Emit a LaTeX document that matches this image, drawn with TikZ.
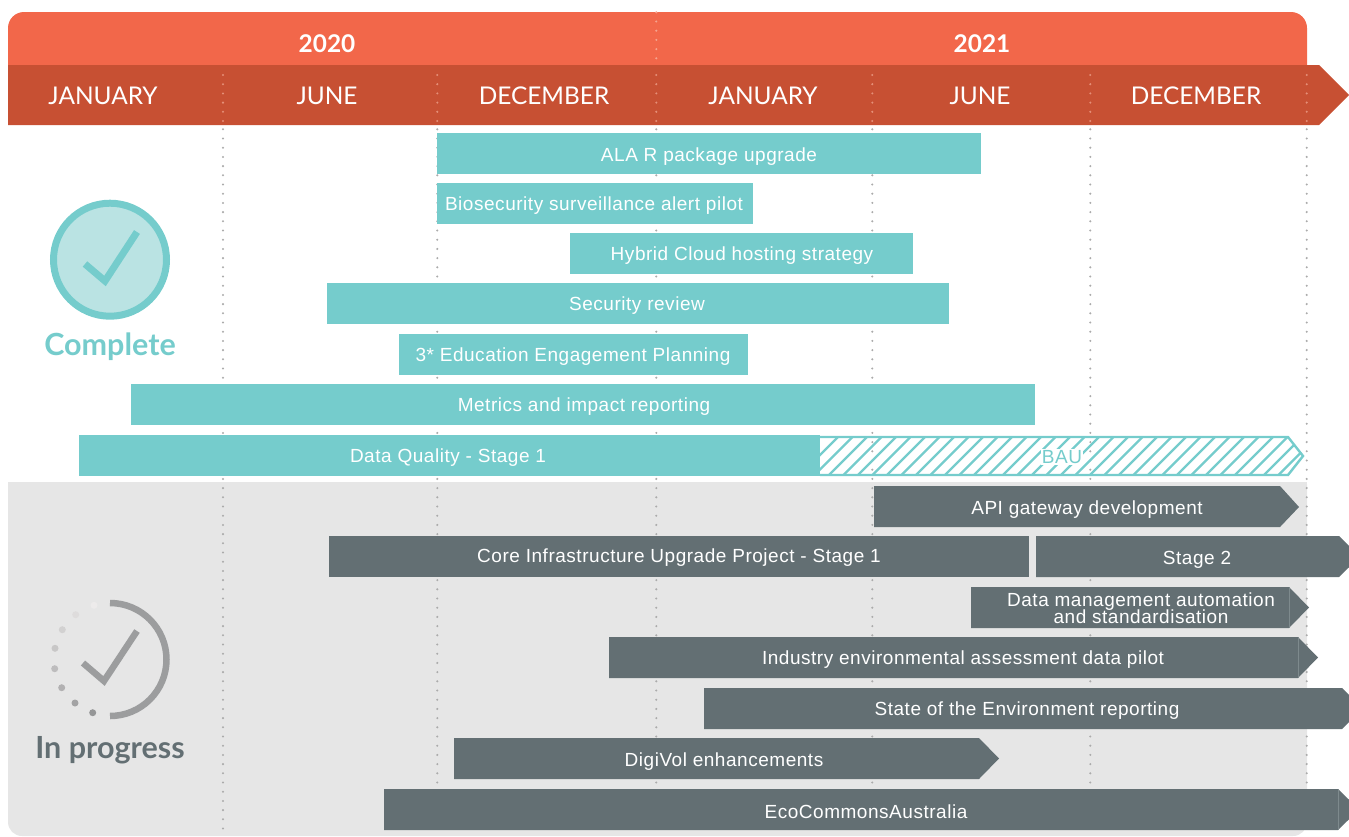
\documentclass[tikz,border=0pt]{standalone}
\usepackage{fontspec}
\setmainfont{Lato}
\newfontfamily\barfont[LetterSpace=2.8]{Liberation Sans}
\definecolor{orangeA}{HTML}{F2674A}
\definecolor{orangeB}{HTML}{C75033}
\definecolor{tealA}{HTML}{75CCCC}
\definecolor{tealB}{HTML}{BAE3E3}
\definecolor{slateA}{HTML}{636F73}
\definecolor{slateB}{HTML}{7E8A8D}
\definecolor{panelA}{HTML}{E6E6E6}
\definecolor{iconA}{HTML}{9C9D9E}
\definecolor{dotA}{HTML}{ABABAB}
\definecolor{dotB}{HTML}{E58F78}
\definecolor{dotC}{HTML}{F5A48F}
\tikzset{
  x=1pt,y=-1pt,
  bartext/.style={text=white,font=\fontsize{19}{19}\selectfont\barfont,inner sep=0pt,align=center,text height=14pt,text depth=2pt},
  monthtext/.style={text=white,font=\fontsize{24.4}{24}\selectfont,inner sep=0pt},
  yeartext/.style={text=white,font=\fontsize{24.4}{24}\selectfont\bfseries,inner sep=0pt},
  griddot/.style={line width=2.3pt,line cap=round,dash pattern=on 0pt off 9.2pt,draw=dotA},
  griddotb/.style={griddot,draw=dotB},
  griddotc/.style={griddot,draw=dotC},
  tealbar/.style={fill=tealA,draw=none},
  slatebar/.style={fill=slateA,draw=none},
  basemark/.style={draw=slateB,line width=0.4pt},
  iconline/.style={line width=7pt,miter limit=10},
}
\begin{document}
\begin{tikzpicture}
\useasboundingbox (0,0) rectangle (1349,836);
\clip (0,0) rectangle (1349,836);
% grey panel
\fill[panelA,rounded corners=14pt] (8,470) rectangle (1307,836);
\fill[white] (0,460) rectangle (1349,482);
% header
\fill[orangeA,rounded corners=16pt] (8,12) rectangle (1307,90);
\fill[orangeB] (8,65) -- (1319,65) -- (1349,95) -- (1319,125) -- (8,125) -- cycle;
% grid
\foreach \gx/\gend/\gn in {223/830/a,437.3/783/b,656.3/830/c,872.3/830/d,1090.3/830/e,1306.7/786/f}{
  \coordinate (gt\gn) at (\gx,75);
  \coordinate (gm\gn) at (\gx,129.3);
  \coordinate (gb\gn) at (\gx,\gend);
  \draw[griddotb] (gt\gn) -- (gm\gn);
  \draw[griddot] (gm\gn) -- (gb\gn);
}
\coordinate (gy) at (656.3,12.3);
\coordinate (gz) at (656.3,64);
\draw[griddotc] (gy) -- (gz);
% header text
\node[yeartext] (y20) at (327,44) {2020};
\node[yeartext] (y21) at (982,44) {2021};
\node[monthtext] (m1) at (103,96) {JANUARY};
\node[monthtext] (m2) at (327,96) {JUNE};
\node[monthtext] (m3) at (544,96) {DECEMBER};
\node[monthtext] (m4) at (763,96) {JANUARY};
\node[monthtext] (m5) at (980,96) {JUNE};
\node[monthtext] (m6) at (1196,96) {DECEMBER};
% complete bars
\fill[tealbar] (437,133) rectangle (981,174);
\node[bartext] (b1) at (709,155) {ALA R package upgrade};
\fill[tealbar] (437,183) rectangle (753,224);
\node[bartext] (b2) at (594,204) {Biosecurity surveillance alert pilot};
\fill[tealbar] (570,233) rectangle (913,274);
\node[bartext] (b3) at (742,254) {Hybrid Cloud hosting strategy};
\fill[tealbar] (327,283) rectangle (949,324);
\node[bartext] (b4) at (637,304) {Security review};
\fill[tealbar] (399,334) rectangle (748,375);
\node[bartext] (b5) at (573,355) {3* Education Engagement Planning};
\fill[tealbar] (131,384) rectangle (1035,425);
\node[bartext] (b6) at (584,405) {Metrics and impact reporting};
\fill[tealbar] (79,435) rectangle (820,476);
\node[bartext] (b7) at (448,456) {Data Quality - Stage 1};
% BAU
\begin{scope}
\clip (820,436) -- (1288,436) -- (1304,456) -- (1288,475) -- (820,475) -- cycle;
\foreach \hx in {0,14.5,...,530}{
  \draw[tealA,line width=2.2pt] (795+\hx,480) -- (845+\hx,430);
}
\end{scope}
\draw[tealA,line width=2.4pt] (820,437) -- (1288,437) -- (1303,456) -- (1288,475) -- (820,475);
\node[inner sep=1pt,fill=white,text=tealA,font=\fontsize{19}{19}\selectfont\barfont] (bau) at (1062,457) {BAU};
% in progress bars
\fill[slatebar] (874,486) -- (1280,486) -- (1299,507) -- (1280,527) -- (874,527) -- cycle;
\node[bartext] (c1) at (1087,508) {API gateway development};
\fill[slatebar] (329,536) rectangle (1029,577);
\node[bartext] (c2) at (679,556) {Core Infrastructure Upgrade Project - Stage 1};
\fill[slatebar] (1036,536) -- (1339,536) -- (1360,556.5) -- (1339,577) -- (1036,577) -- cycle;
\node[bartext] (c3) at (1197,558) {Stage 2};
\fill[slatebar] (971,587) -- (1289,587) -- (1309,607.5) -- (1289,628) -- (971,628) -- cycle;
\draw[basemark] (1289,587) -- (1289,628);
\node[bartext] (c4) at (1141,600) {Data management automation};
\node[bartext] (c5) at (1141,617) {and standardisation};
\fill[slatebar] (609,637) -- (1298,637) -- (1318,657.5) -- (1298,678) -- (609,678) -- cycle;
\draw[basemark] (1298,637) -- (1298,678);
\node[bartext] (c6) at (963,658) {Industry environmental assessment data pilot};
\fill[slatebar] (704,688) -- (1342,688) -- (1363,708.5) -- (1342,729) -- (704,729) -- cycle;
\node[bartext] (c7) at (1027,709) {State of the Environment reporting};
\fill[slatebar] (454,738) -- (979,738) -- (999,758.5) -- (979,779) -- (454,779) -- cycle;
\node[bartext] (c8) at (724,760) {DigiVol enhancements};
\fill[slatebar] (384,789) -- (1338,789) -- (1359,809.5) -- (1338,830) -- (384,830) -- cycle;
\draw[basemark] (1338,789) -- (1338,830);
\node[bartext] (c9) at (866,812) {EcoCommonsAustralia};
% Complete icon
\fill[tealB] (110,259.7) circle[radius=56.5];
\draw[tealA,line width=7pt] (110,259.7) circle[radius=56.5];
\draw[tealA,iconline] (85,264) -- (105,281) -- (137,232);
\node[text=tealA,font=\fontsize{30.5}{30}\selectfont\bfseries,inner sep=0pt] (lc) at (110,347) {Complete};
% In progress icon
\draw[iconA,line width=6.5pt] (110,603) arc[start angle=-90,end angle=90,radius=56.5];
\draw[iconA,iconline,line width=6.5pt] (83,663) -- (104,681) -- (137,631);
\foreach \dx/\dy/\dc in {94/605.3/EDEBEB,75.7/614.7/DEDCDC,62.3/629.7/D2D1D1,55/648.3/C8C7C7,54.7/668.7/BDBCBD,61.7/687.7/B2B1B2,75/703/A3A3A4,92.7/712.7/959697}{
  \definecolor{tmpd}{HTML}{\dc}
  \fill[tmpd] (\dx,\dy) circle[radius=3.5];
}
\node[text=slateA,font=\fontsize{30.5}{30}\selectfont\bfseries,inner sep=0pt] (lp) at (110,750) {In progress};
\end{tikzpicture}
\end{document}
